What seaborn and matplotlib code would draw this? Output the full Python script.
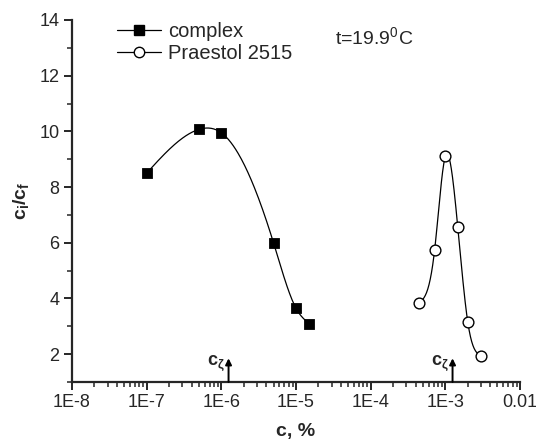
import numpy as np
import pandas as pd
import matplotlib
matplotlib.use('Agg')
import matplotlib.pyplot as plt
from matplotlib.lines import Line2D
from matplotlib.ticker import LogLocator, FixedLocator, FuncFormatter, MultipleLocator
import seaborn as sns

sns.set_style('ticks')
plt.rcParams['font.family'] = ['Liberation Sans', 'DejaVu Sans']
plt.rcParams['mathtext.fontset'] = 'custom'
plt.rcParams['mathtext.rm'] = 'Liberation Sans'
plt.rcParams['mathtext.it'] = 'Liberation Sans'
plt.rcParams['mathtext.bf'] = 'Liberation Sans:bold'

# data
complex_c = [1e-7, 5e-7, 1e-6, 5e-6, 1e-5, 1.5e-5]
complex_r = [8.5, 10.07, 9.95, 6.0, 3.65, 3.1]
praestol_c = [4.5e-4, 7.2e-4, 1e-3, 1.47e-3, 2e-3, 3e-3]
praestol_r = [3.85, 5.75, 9.1, 6.55, 3.15, 1.95]
czeta = [1.25e-6, 1.25e-3]
xtick_vals = [1e-8, 1e-7, 1e-6, 1e-5, 1e-4, 1e-3, 1e-2]
xtick_labels = ['1E-8', '1E-7', '1E-6', '1E-5', '1E-4', '1E-3', '0.01']


def spline(x, y, n=200):
    # natural cubic spline in log10(x)
    x = np.log10(np.asarray(x))
    y = np.asarray(y, dtype=float)
    k = len(x)
    h = np.diff(x)
    A = np.zeros((k, k))
    b = np.zeros(k)
    A[0, 0] = A[-1, -1] = 1
    for i in range(1, k - 1):
        A[i, i - 1] = h[i - 1]
        A[i, i] = 2 * (h[i - 1] + h[i])
        A[i, i + 1] = h[i]
        b[i] = 6 * ((y[i + 1] - y[i]) / h[i] - (y[i] - y[i - 1]) / h[i - 1])
    m = np.linalg.solve(A, b)
    xs = np.linspace(x[0], x[-1], n)
    idx = np.clip(np.searchsorted(x, xs) - 1, 0, k - 2)
    t0 = xs - x[idx]
    t1 = x[idx + 1] - xs
    hi = h[idx]
    ys = (m[idx] * t1 ** 3 + m[idx + 1] * t0 ** 3) / (6 * hi) \
        + (y[idx] / hi - m[idx] * hi / 6) * t1 \
        + (y[idx + 1] / hi - m[idx + 1] * hi / 6) * t0
    return 10 ** xs, ys


fig = plt.figure(figsize=(5.36, 4.41), dpi=100)
ax = fig.add_axes([0.1343, 0.1338, 0.8358, 0.8209])

for cx, cy in [(complex_c, complex_r), (praestol_c, praestol_r)]:
    sx, sy = spline(cx, cy)
    sns.lineplot(x=sx, y=sy, ax=ax, color='black', lw=0.9, sort=False)

sns.scatterplot(x=complex_c, y=complex_r, ax=ax, marker='s', s=55,
                color='black', edgecolor='black', zorder=3)
sns.scatterplot(x=praestol_c, y=praestol_r, ax=ax, marker='o', s=60,
                facecolor='white', edgecolor='black', linewidth=1, zorder=3)

ax.set_xscale('log')
ax.set_xlim(1e-8, 1e-2)
ax.set_ylim(1, 14)
ax.xaxis.set_major_locator(FixedLocator(xtick_vals))
ax.xaxis.set_major_formatter(FuncFormatter(
    lambda v, p: xtick_labels[int(round(np.log10(v))) + 8]))
ax.xaxis.set_minor_locator(LogLocator(base=10, subs=np.arange(2, 10), numticks=20))
ax.yaxis.set_major_locator(FixedLocator([2, 4, 6, 8, 10, 12, 14]))
ax.yaxis.set_minor_locator(MultipleLocator(1))

sns.despine(ax=ax)
for s in ['left', 'bottom']:
    ax.spines[s].set_linewidth(1.6)
ax.spines['left'].set_bounds(1, 14)
ax.tick_params(which='major', direction='out', length=6, width=1.4,
               labelsize=13, pad=3)
ax.tick_params(which='minor', direction='out', length=3.5, width=1.1)

ax.set_xlabel('c, %', fontsize=14, fontweight='bold', labelpad=8)
ax.set_ylabel(r'c$_\mathbf{i}$/c$_\mathbf{f}$', fontsize=14,
              fontweight='bold', labelpad=6)

# c_zeta arrows
for cz in czeta:
    ax.annotate('', xy=(cz, 1.85), xytext=(cz, 1.0),
                arrowprops=dict(arrowstyle='-|>', color='black', lw=1.4,
                                mutation_scale=9, shrinkA=0, shrinkB=0))
    ax.text(cz / 1.13, 1.68, r'c$_\mathbf{\zeta}$', fontsize=13,
            fontweight='bold', ha='right', va='center')

ax.text(3.3e-5, 13.15, r't=19.9$^\mathregular{0}$C', fontsize=14,
        va='baseline')

handles = [
    Line2D([], [], color='black', lw=0.9, marker='s', markersize=7.5),
    Line2D([], [], color='black', lw=0.9, marker='o', markersize=7.5,
           markerfacecolor='white'),
]
ax.legend(handles, ['complex', 'Praestol 2515'], loc='upper left',
          bbox_to_anchor=(0.06, 1.045), frameon=False, fontsize=14.5,
          handlelength=2.2, handletextpad=0.35, labelspacing=0.15)

fig.savefig('out.png', dpi=100)
